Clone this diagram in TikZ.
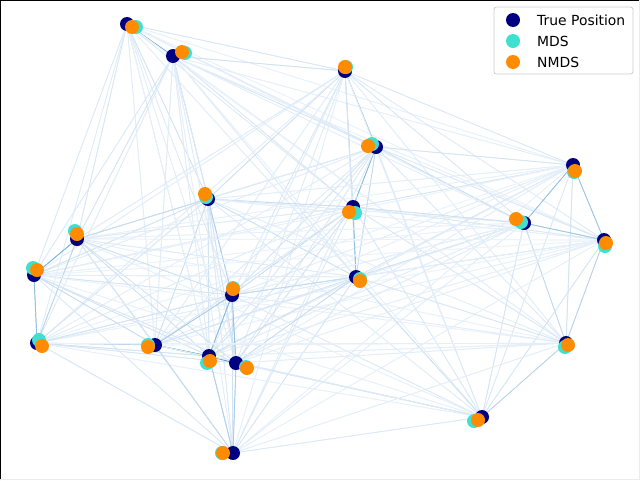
\documentclass[tikz,border=0pt]{standalone}
\usepackage{fontspec}
\setmainfont{DejaVu Sans}
\definecolor{navyc}{HTML}{000080}
\definecolor{turq}{HTML}{40E0D0}
\definecolor{dorange}{HTML}{FF8C00}
\definecolor{B0}{HTML}{F7FBFF}
\definecolor{B1}{HTML}{C6DBEF}
\definecolor{B2}{HTML}{6BAED6}
\definecolor{B3}{HTML}{2171B5}
\definecolor{B4}{HTML}{08306B}
\definecolor{legedge}{HTML}{CCCCCC}
\begin{document}
\begin{tikzpicture}[x=1pt,y=-1pt,
  truept/.style={circle,fill=navyc,inner sep=0pt,minimum size=14pt},
  mdspt/.style={circle,fill=turq,inner sep=0pt,minimum size=14pt},
  nmdspt/.style={circle,fill=dorange,inner sep=0pt,minimum size=14pt},
  simline/.style={line width=0.7pt},
  legtext/.style={anchor=west,inner sep=0pt,font=\fontsize{13.9}{16}\selectfont}]
\useasboundingbox (0,0) rectangle (640,480);
\def\TX{{0,127,173,345,376,573,208,353,524,604,77,34,356,232,37,155,209,236,566,482,233}}
\def\TY{{0,24,56,71,147,165,199,207,223,240,239,275,277,295,343,345,356,363,343,417,453}}
\foreach \x/\y [count=\i] in {127/24,173/56,345/71,376/147,573/165,208/199,353/207,524/223,604/240,77/239,34/275,356/277,232/295,37/343,155/345,209/356,236/363,566/343,482/417,233/453}
  \coordinate (t\i) at (\x,\y);
\foreach \x/\y [count=\i] in {136/27,185/53,346/67,372/144,574/172,206/197,355/213,521/222,605/246,75/231,33/268,360/279,233/288,39/340,148/345,207/363,246/367,565/347,474/421,222/453}
  \coordinate (m\i) at (\x,\y);
\foreach \x/\y [count=\i] in {132/27,182/52,345/67,368/146,575/171,205/194,349/212,516/219,606/243,77/234,37/270,360/281,233/289,42/346,148/347,210/361,247/368,568/345,478/420,223/453}
  \coordinate (n\i) at (\x,\y);
% similarity lines (each pair drawn in both directions, as in the original)
\foreach \i in {1,...,19}{
  \pgfmathtruncatemacro\s{\i+1}
  \foreach \j in {\s,...,20}{
    \pgfmathsetmacro\d{veclen(\TX[\i]-\TX[\j],\TY[\i]-\TY[\j])}
    \pgfmathsetmacro\tt{min(1,40/(\d+30))}
    \pgfmathtruncatemacro\k{min(3,floor(4*\tt))}
    \pgfmathtruncatemacro\kk{\k+1}
    \pgfmathsetmacro\p{(4*\tt-\k)*100}
    \colorlet{lc}{B\kk!\p!B\k}
    \draw[simline,lc] (t\i) -- (t\j);
    \draw[simline,lc] (t\j) -- (t\i);
  }
}
% markers
\foreach \i in {1,...,20} \node[truept] (T\i) at (t\i) {};
\foreach \i in {1,...,20} \node[mdspt] (M\i) at (m\i) {};
\foreach \i in {1,...,20} \node[nmdspt] (N\i) at (n\i) {};
% legend
\node[draw=legedge,line width=0.8pt,rounded corners=2.5pt,fill=white,fill opacity=0.8,
      minimum width=139pt,minimum height=67pt,inner sep=0pt] (legend) at (563.5,40.5) {};
\node[truept] (LT) at (513,20) {};
\node[mdspt] (LM) at (513,41) {};
\node[nmdspt] (LN) at (513,62) {};
\node[legtext] (LTt) at (537,20) {True Position};
\node[legtext] (LMt) at (537,41) {MDS};
\node[legtext] (LNt) at (537,62) {NMDS};
% frame
\draw[line width=1.1pt] (0.55,480) -- (0.55,0.55) -- (640,0.55);
\draw[line width=0.8pt,gray!15] (0,479.6) -- (639.6,479.6) -- (639.6,0);
\end{tikzpicture}
\end{document}
